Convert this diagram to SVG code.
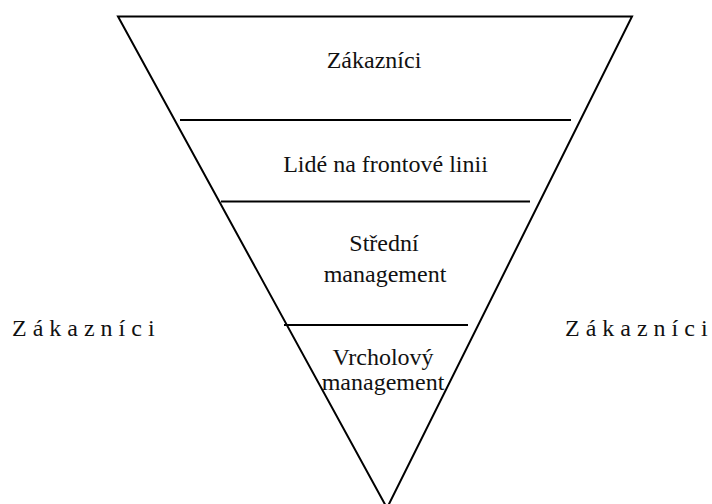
<svg xmlns="http://www.w3.org/2000/svg" width="712" height="504" viewBox="0 0 712 504">
  <style>
    .edge { stroke: #000; stroke-width: 2; fill: none; }
    .lbl { font-family: "Liberation Serif", "Times New Roman", serif; font-size: 24px; fill: #111; text-anchor: middle; }
    .side { font-family: "Liberation Serif", "Times New Roman", serif; font-size: 24px; fill: #111; }
  </style>
  <rect width="712" height="504" fill="#fff"/>

  <!-- inverted pyramid outline -->
  <g id="pyramid">
    <polygon class="edge" points="118,16.5 632,16.5 387,508"/>
  </g>

  <!-- layer dividers -->
  <g id="dividers">
    <line class="edge" x1="180" y1="120" x2="571" y2="120"/>
    <line class="edge" x1="221" y1="201.5" x2="530" y2="201.5"/>
    <line class="edge" x1="284" y1="325" x2="468" y2="325"/>
  </g>

  <g id="layer-customers">
    <text class="lbl" x="374" y="68">Zákazníci</text>
  </g>
  <g id="layer-frontline">
    <text class="lbl" x="385.5" y="172">Lidé na frontové linii</text>
  </g>
  <g id="layer-middle">
    <text class="lbl" x="384" y="251">Střední</text>
    <text class="lbl" x="385" y="282">management</text>
  </g>
  <g id="layer-top">
    <text class="lbl" x="383" y="365">Vrcholový</text>
    <text class="lbl" x="383" y="390">management</text>
  </g>

  <g id="side-left">
    <text class="side" x="12" y="336" xml:space="preserve">Z á k a z n í c i</text>
  </g>
  <g id="side-right">
    <text class="side" x="565" y="336" xml:space="preserve">Z á k a z n í c i</text>
  </g>
</svg>
